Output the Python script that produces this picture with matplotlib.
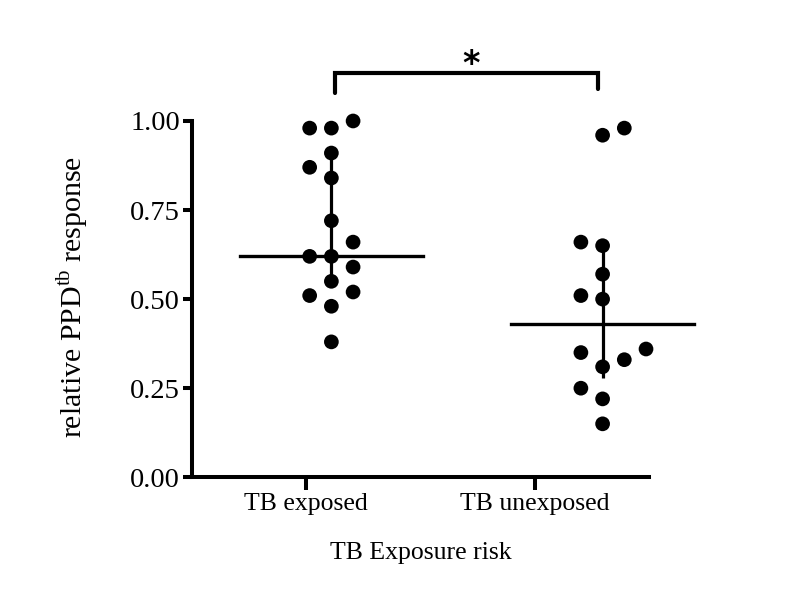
import matplotlib
matplotlib.use("Agg")
import matplotlib.pyplot as plt
import numpy as np

plt.rcParams['font.family'] = ['Liberation Serif', 'DejaVu Serif']
plt.rcParams['mathtext.fontset'] = 'custom'
plt.rcParams['mathtext.rm'] = 'Liberation Serif'

# groups and tick labels
groups = ['TB exposed', 'TB unexposed']
tick_pos = [1, 2]
group_center = [1.11, 2.297]

# values, with the column each dot sits in
exposed_vals = [0.98, 0.98, 1.00, 0.91, 0.87, 0.84, 0.72, 0.66,
                0.62, 0.62, 0.59, 0.55, 0.51, 0.52, 0.48, 0.38]
exposed_cols = [-1, 0, 1, 0, -1, 0, 0, 1, -1, 0, 1, 0, -1, 1, 0, 0]

unexposed_vals = [0.96, 0.98, 0.66, 0.65, 0.57, 0.51, 0.50,
                  0.35, 0.36, 0.33, 0.31, 0.25, 0.22, 0.15]
unexposed_cols = [0, 1, -1, 0, 0, -1, 0, -1, 2, 1, 0, -1, 0, 0]

# median and range bar
medians = [0.62, 0.43]
bar_low = [0.55, 0.28]
bar_high = [0.91, 0.65]

col_step = 0.095
half_width = 0.4

fig = plt.figure(figsize=(8.04, 5.89), dpi=100)
ax = fig.add_axes([0.2388, 0.1897, 0.5684, 0.6049])

for i, (vals, cols) in enumerate([(exposed_vals, exposed_cols),
                                  (unexposed_vals, unexposed_cols)]):
    xc = group_center[i]
    xs = xc + np.array(cols) * col_step
    ax.plot([xc, xc], [bar_low[i], bar_high[i]], color='black', lw=2.3,
            solid_capstyle='butt', zorder=2)
    ax.plot([xc - half_width, xc + half_width], [medians[i], medians[i]],
            color='black', lw=2.4, clip_on=False, zorder=2)
    ax.scatter(xs, vals, s=112, color='black', edgecolors='none',
               clip_on=False, zorder=3)

# significance bracket
x1, x2 = 1.127, 2.275
ax.plot([x1, x1, x2, x2], [1.079, 1.135, 1.135, 1.090], color='black',
        lw=3, clip_on=False, solid_joinstyle='miter', solid_capstyle='round')
ax.text(1.72, 1.158, '*', ha='center', va='center', fontsize=24,
        fontweight='bold', family='DejaVu Sans', transform=ax.transData)

ax.set_xlim(0.5, 2.5)
ax.set_ylim(0, 1.0)
ax.set_xticks(tick_pos)
ax.set_xticklabels(groups)
ax.set_yticks([0, 0.25, 0.5, 0.75, 1.0])
ax.set_yticklabels(['0.00', '0.25', '0.50', '0.75', '1.00'])

for side in ['top', 'right']:
    ax.spines[side].set_visible(False)
for side in ['left', 'bottom']:
    ax.spines[side].set_linewidth(2.9)

ax.tick_params(axis='y', length=6.5, width=2.9, labelsize=20.5, pad=2)
ax.tick_params(axis='x', length=9, width=2.9, labelsize=18.5, pad=2)

ax.set_xlabel('TB Exposure risk', fontsize=18.5, labelpad=20)
ax.text(-0.263, 0.506, 'relative PPD$^{\\mathrm{tb}}$ response',
        transform=ax.transAxes, rotation=90, ha='center', va='center',
        fontsize=21.5)

fig.savefig('out.png', dpi=100)
